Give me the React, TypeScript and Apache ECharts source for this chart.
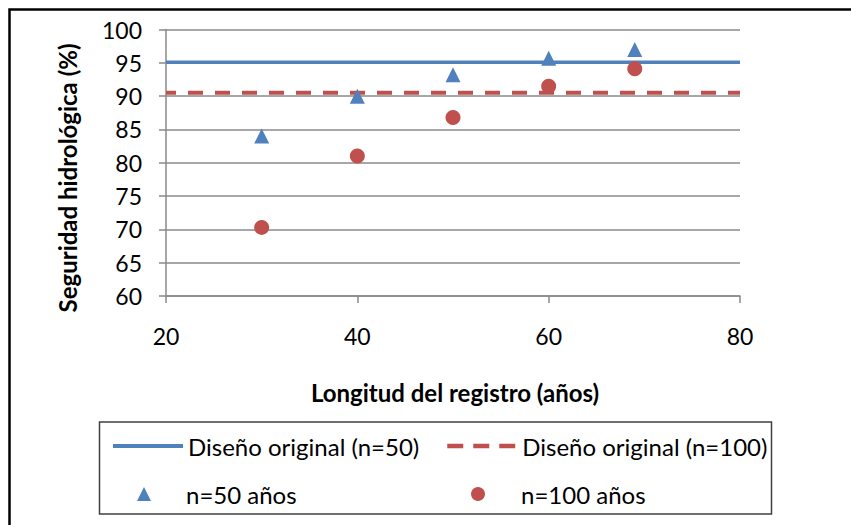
import React, { useEffect, useRef } from "react";
import * as echarts from "echarts";

const lineX = [20, 80];
const design50 = [95.1, 95.1];
const design100 = [90.5, 90.5];
const recordLength = [30, 40, 50, 60, 69];
const n50 = [84.0, 90.0, 93.2, 95.7, 97.0];
const n100 = [70.3, 81.0, 86.8, 91.5, 94.1];

const NAME_D50 = "Diseño original (n=50)";
const NAME_D100 = "Diseño original (n=100)";
const NAME_N50 = "n=50 años";
const NAME_N100 = "n=100 años";
const Y_TITLE = "Seguridad hidrológica (%)";
const X_TITLE = "Longitud del registro (años)";

const BLUE = "#4F81BD";
const RED = "#C0504D";
const GRID = "#8a8a8a";
const FONT = "Lato";

export default function App() {
  const ref = useRef<HTMLDivElement>(null);
  useEffect(() => {
    if (!ref.current) return;
    const chart = echarts.init(ref.current, null, { renderer: "svg" });
    const legendText = { fontFamily: FONT, fontSize: 24, color: "#000" };
    chart.setOption({
      animation: false,
      backgroundColor: "#fff",
      grid: { left: 166, top: 29.5, width: 574, height: 266.5 },
      xAxis: {
        type: "value",
        min: 20,
        max: 80,
        interval: 20,
        axisLine: { show: true, lineStyle: { color: GRID, width: 1.5 } },
        axisTick: { show: true, length: 7, lineStyle: { color: GRID, width: 1.5 } },
        splitLine: { show: false },
        axisLabel: { fontFamily: FONT, fontSize: 23, color: "#000", margin: 28 },
      },
      yAxis: {
        type: "value",
        min: 60,
        max: 100,
        interval: 5,
        axisLine: { show: true, lineStyle: { color: GRID, width: 1.5 } },
        axisTick: { show: true, length: 7, lineStyle: { color: GRID, width: 1.5 } },
        splitLine: { show: true, lineStyle: { color: GRID, width: 1.5 } },
        axisLabel: { fontFamily: FONT, fontSize: 23, color: "#000", margin: 24 },
      },
      legend: [
        {
          left: 111, top: 434, padding: 0, itemWidth: 70, itemHeight: 14,
          textStyle: legendText,
          data: [{ name: NAME_D50, itemStyle: { opacity: 0 }, lineStyle: { width: 4, color: BLUE } }],
        },
        {
          left: 445, top: 434, padding: 0, itemWidth: 70, itemHeight: 14,
          textStyle: legendText,
          data: [{ name: NAME_D100, itemStyle: { opacity: 0 }, lineStyle: { width: 4.5, color: RED, type: [16, 10], dashOffset: 0 } }],
        },
        {
          left: 137, top: 482, padding: 0, itemWidth: 14, itemHeight: 14,
          textStyle: { ...legendText, padding: [0, 0, 0, 30] },
          data: [NAME_N50],
        },
        {
          left: 471, top: 482, padding: 0, itemWidth: 14, itemHeight: 14,
          textStyle: { ...legendText, padding: [0, 0, 0, 31] },
          data: [NAME_N100],
        },
      ],
      series: [
        {
          name: NAME_D50,
          type: "line",
          data: lineX.map((x, i) => [x, design50[i]]),
          symbol: "none",
          lineStyle: { color: BLUE, width: 3.5 },
          itemStyle: { color: BLUE },
          z: 2,
        },
        {
          name: NAME_D100,
          type: "line",
          data: lineX.map((x, i) => [x, design100[i]]),
          symbol: "none",
          lineStyle: { color: RED, width: 4, type: [15, 12], dashOffset: 5 },
          itemStyle: { color: RED },
          z: 2,
        },
        {
          name: NAME_N50,
          type: "scatter",
          data: recordLength.map((x, i) => [x, n50[i]]),
          symbol: "triangle",
          symbolSize: 15,
          itemStyle: { color: BLUE, opacity: 1 },
          z: 3,
        },
        {
          name: NAME_N100,
          type: "scatter",
          data: recordLength.map((x, i) => [x, n100[i]]),
          symbol: "circle",
          symbolSize: 15,
          itemStyle: { color: RED, opacity: 1 },
          z: 3,
        },
      ],
      graphic: [
        {
          type: "rect",
          shape: { x: 9.5, y: 9.5, width: 1000, height: 1000 },
          style: { fill: "none", stroke: "#000", lineWidth: 2.5 },
          silent: true,
        },
        {
          type: "rect",
          shape: { x: 99.5, y: 422, width: 672, height: 92 },
          style: { fill: "none", stroke: "#404040", lineWidth: 1.5 },
          silent: true,
        },
        {
          type: "text",
          x: 67,
          y: 178,
          rotation: Math.PI / 2,
          style: {
            text: Y_TITLE,
            fontFamily: FONT,
            fontWeight: "bold",
            fontSize: 24,
            fill: "#000",
            align: "center",
            verticalAlign: "middle",
          },
        },
        {
          type: "text",
          x: 455,
          y: 392,
          style: {
            text: X_TITLE,
            fontFamily: FONT,
            fontWeight: "bold",
            fontSize: 24,
            fill: "#000",
            align: "center",
            verticalAlign: "middle",
          },
        },
      ],
    });
    return () => chart.dispose();
  }, []);
  return (
    <div
      ref={ref}
      style={{ position: "fixed", left: 0, top: 0, width: 851, height: 525 }}
    />
  );
}
